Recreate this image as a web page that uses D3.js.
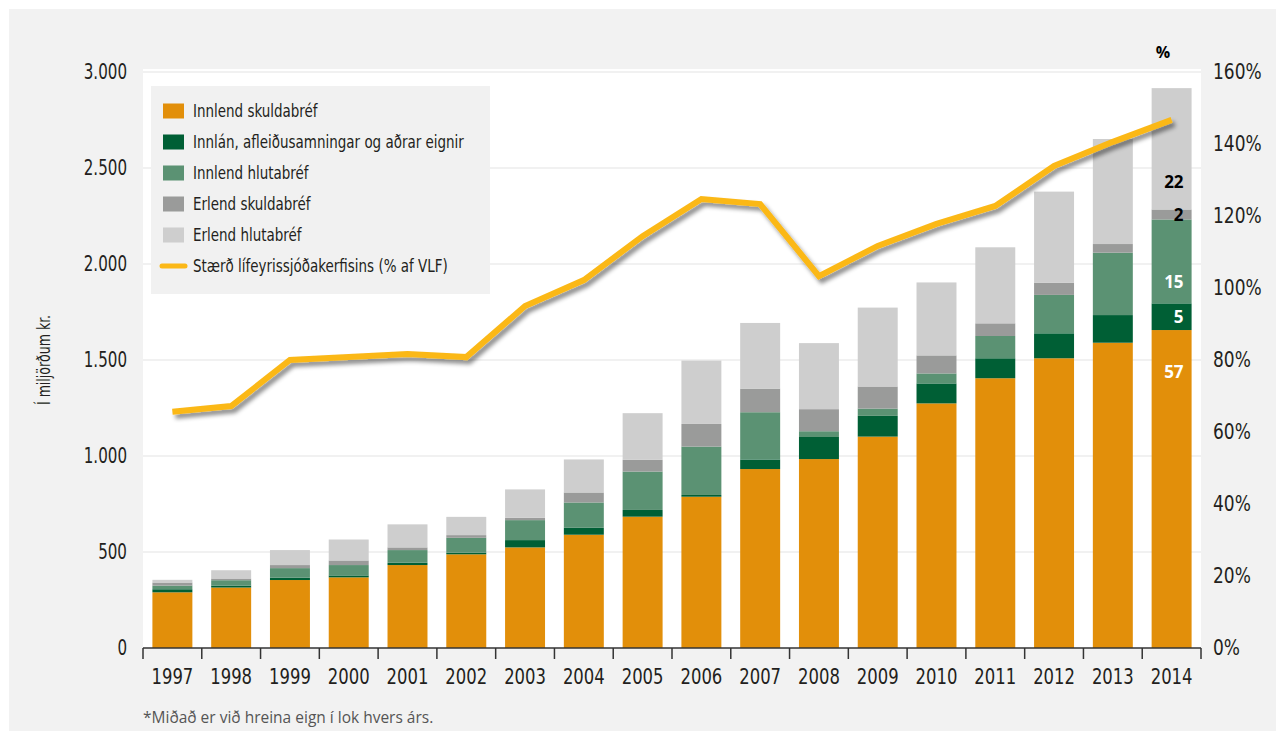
<!DOCTYPE html>
<html>
<head>
<meta charset="utf-8">
<script src="https://cdn.jsdelivr.net/npm/d3@7"></script>
<style>
  body { margin: 0; background: #fff; }
  svg text { font-family: "Liberation Sans Narrow", "DejaVu Sans Condensed", "Roboto", sans-serif; font-stretch: condensed; }
</style>
</head>
<body>
<svg id="chart" width="1276" height="731"></svg>
<script>
// ── Data ──────────────────────────────────────
const years = [1997, 1998, 1999, 2000, 2001, 2002, 2003, 2004, 2005,
               2006, 2007, 2008, 2009, 2010, 2011, 2012, 2013, 2014];

// in billions ISK
const innlendSkuldabref = [290, 315, 354, 368, 432, 488, 524, 590, 684, 788, 932, 984, 1101, 1274, 1405, 1509, 1590, 1656];
const innlan            = [16, 10, 12, 10, 12, 8, 38, 36, 35, 9, 50, 115, 108, 104, 104, 130, 144, 139];
const innlendHlutabref  = [19, 28, 50, 54, 66, 78, 104, 132, 200, 252, 246, 30, 38, 52, 116, 200, 325, 437];
const erlendSkuldabref  = [16, 9, 16, 24, 14, 14, 12, 52, 61, 118, 123, 115, 115, 94, 66, 64, 45, 52];
const erlendHlutabref   = [14, 43, 78, 109, 120, 95, 148, 172, 243, 330, 342, 344, 411, 380, 396, 474, 547, 632];

// pension system size, % of GDP
const vlfPct = [65.6, 67.2, 80, 80.8, 81.7, 80.8, 95, 102.2, 114.4, 124.7, 123.3, 103.3, 111.7, 117.8, 122.8, 133.9, 140.6, 146.7];

// 2014 composition labels, % (bottom to top)
const shares2014 = [57, 5, 15, 2, 22];

const seriesNames = [
  "Innlend skuldabréf",
  "Innlán, afleiðusamningar og aðrar eignir",
  "Innlend hlutabréf",
  "Erlend skuldabréf",
  "Erlend hlutabréf"
];
const lineName = "Stærð lífeyrissjóðakerfisins (% af VLF)";

const leftTicks  = [0, 500, 1000, 1500, 2000, 2500, 3000];
const rightTicks = [0, 20, 40, 60, 80, 100, 120, 140, 160];

const yTitle   = "Í miljörðum kr.";
const footnote = "*Miðað er við hreina eign í lok hvers árs.";

// ── Style ─────────────────────────────────────
const colors    = ["#e28f0a", "#005f35", "#5b9273", "#9a9b9a", "#cecece"];
const lineColor = "#fbb817";
const textColor = "#231f20";

const W = 1276, H = 731;
const plot = { left: 143, right: 1201, top: 72, bottom: 648 };

const svg = d3.select("#chart");

// squeeze text horizontally to mimic a condensed face
function squeeze(sel, k) {
  sel.each(function () {
    const len = this.getComputedTextLength();
    d3.select(this).attr("textLength", len * k).attr("lengthAdjust", "spacingAndGlyphs");
  });
}

// background
svg.append("rect").attr("width", W).attr("height", H).attr("fill", "#fff");
svg.append("rect").attr("x", 9).attr("y", 9).attr("width", W - 9).attr("height", H - 9).attr("fill", "#f2f2f2");
svg.append("rect")
  .attr("x", plot.left).attr("y", plot.top - 3)
  .attr("width", plot.right - plot.left).attr("height", plot.bottom - plot.top + 3)
  .attr("fill", "#fff");

// ── Scales ────────────────────────────────────
const x = d3.scaleBand()
  .domain(years)
  .range([plot.left, plot.right])
  .paddingInner(0.32)
  .paddingOuter(0.16);

const y = d3.scaleLinear().domain([0, 3000]).range([plot.bottom, plot.top]);
const yR = d3.scaleLinear().domain([0, 160]).range([plot.bottom, plot.top]);

const isl = d3.formatLocale({ decimal: ",", thousands: ".", grouping: [3], currency: ["", " kr."] });
const fmtK = isl.format(",d");

// ── Grid ──────────────────────────────────────
svg.append("g")
  .selectAll("line")
  .data(leftTicks.filter(d => d > 0))
  .join("line")
  .attr("x1", plot.left).attr("x2", plot.right)
  .attr("y1", d => y(d)).attr("y2", d => y(d))
  .attr("stroke", "#ececec")
  .attr("stroke-width", 1.5);

// ── Stacked bars ──────────────────────────────
const table = years.map((yr, i) => ({
  year: yr,
  s0: innlendSkuldabref[i],
  s1: innlan[i],
  s2: innlendHlutabref[i],
  s3: erlendSkuldabref[i],
  s4: erlendHlutabref[i]
}));
const stack = d3.stack().keys(["s0", "s1", "s2", "s3", "s4"])(table);

svg.append("g")
  .selectAll("g")
  .data(stack)
  .join("g")
  .attr("fill", (d, i) => colors[i])
  .selectAll("rect")
  .data(d => d)
  .join("rect")
  .attr("x", d => x(d.data.year))
  .attr("width", x.bandwidth())
  .attr("y", d => y(d[1]))
  .attr("height", d => y(d[0]) - y(d[1]));

// ── 2014 share labels ─────────────────────────
const lastIdx = years.length - 1;
const labelDy   = [-117, 0, 20, 0, 33];   // nudge from segment middle
const labelFill = ["#fff", "#fff", "#fff", "#000", "#000"];
svg.append("g")
  .selectAll("text")
  .data(shares2014)
  .join("text")
  .attr("x", x(years[lastIdx]) + x.bandwidth() - 8)
  .attr("y", (d, i) => {
    const seg = stack[i][lastIdx];
    return (y(seg[0]) + y(seg[1])) / 2 + labelDy[i];
  })
  .attr("dy", "0.36em")
  .attr("text-anchor", "end")
  .attr("fill", (d, i) => labelFill[i])
  .style("font-family", "'Open Sans', sans-serif")
  .style("font-stretch", "normal")
  .attr("font-weight", "bold")
  .attr("font-size", "17px")
  .text(d => d);

// ── Line with shadow ──────────────────────────
const defs = svg.append("defs");
const f = defs.append("filter").attr("id", "shadow")
  .attr("x", "-10%").attr("y", "-10%").attr("width", "120%").attr("height", "130%");
f.append("feDropShadow")
  .attr("dx", 3).attr("dy", 4).attr("stdDeviation", 2.2)
  .attr("flood-color", "#000").attr("flood-opacity", 0.45);

const line = d3.line()
  .x((d, i) => x(years[i]) + x.bandwidth() / 2)
  .y(d => yR(d));

svg.append("path")
  .datum(vlfPct)
  .attr("d", line)
  .attr("fill", "none")
  .attr("stroke", lineColor)
  .attr("stroke-width", 6)
  .attr("stroke-linejoin", "miter")
  .attr("filter", "url(#shadow)");

// ── Axes ──────────────────────────────────────
const xAxis = svg.append("g").attr("transform", `translate(0,${plot.bottom})`);
xAxis.append("line")
  .attr("x1", plot.left).attr("x2", plot.right)
  .attr("stroke", "#333").attr("stroke-width", 1.5);
const step = x.step();
xAxis.selectAll(".tk")
  .data(d3.range(years.length + 1))
  .join("line")
  .attr("x1", i => plot.left + i * step)
  .attr("x2", i => plot.left + i * step)
  .attr("y1", 0).attr("y2", 11)
  .attr("stroke", "#333").attr("stroke-width", 1.5);
xAxis.selectAll("text")
  .data(years)
  .join("text")
  .attr("x", d => x(d) + x.bandwidth() / 2)
  .attr("y", 29)
  .attr("dy", "0.35em")
  .attr("text-anchor", "middle")
  .attr("fill", textColor)
  .attr("font-size", "21px")
  .text(d => d)
  .call(squeeze, 0.87);

svg.append("g")
  .selectAll("text")
  .data(leftTicks)
  .join("text")
  .attr("x", 127)
  .attr("y", d => y(d))
  .attr("dy", "0.35em")
  .attr("text-anchor", "end")
  .attr("fill", textColor)
  .attr("font-size", "21px")
  .text(d => fmtK(d))
  .call(squeeze, 0.8);

svg.append("g")
  .selectAll("text")
  .data(rightTicks)
  .join("text")
  .attr("x", 1213)
  .attr("y", d => yR(d))
  .attr("dy", "0.35em")
  .attr("text-anchor", "start")
  .attr("fill", textColor)
  .attr("font-size", "21px")
  .text(d => d + "%")
  .call(squeeze, 0.9);

svg.append("text")
  .attr("transform", `translate(50,${(plot.top + plot.bottom) / 2}) rotate(-90)`)
  .attr("text-anchor", "middle")
  .attr("fill", textColor)
  .attr("font-size", "17px")
  .text(yTitle)
  .call(squeeze, 0.82);

svg.append("text")
  .attr("x", 1163).attr("y", 52)
  .attr("dy", "0.35em")
  .attr("text-anchor", "middle")
  .attr("fill", "#000")
  .attr("font-weight", "bold")
  .style("font-family", "'Open Sans', sans-serif")
  .style("font-stretch", "normal")
  .attr("font-size", "16px")
  .text("%");

svg.append("text")
  .attr("x", 143).attr("y", 718)
  .attr("dy", "0.35em")
  .attr("fill", "#555")
  .style("font-family", "'Open Sans', sans-serif")
  .style("font-stretch", "normal")
  .attr("font-size", "15.5px")
  .text(footnote);

// ── Legend ────────────────────────────────────
const legend = svg.append("g");
legend.append("rect")
  .attr("x", 151).attr("y", 86)
  .attr("width", 339).attr("height", 208)
  .attr("fill", "#f1f1f1");

const rowY = i => 111 + i * 31;
seriesNames.forEach((name, i) => {
  legend.append("rect")
    .attr("x", 163).attr("y", rowY(i) - 7.5)
    .attr("width", 21).attr("height", 15)
    .attr("fill", colors[i]);
  legend.append("text")
    .attr("x", 193).attr("y", rowY(i))
    .attr("dy", "0.35em")
    .attr("fill", textColor)
    .attr("font-size", "17px")
    .text(name)
    .call(squeeze, 0.88);
});
legend.append("line")
  .attr("x1", 162).attr("x2", 185)
  .attr("y1", rowY(5)).attr("y2", rowY(5))
  .attr("stroke", lineColor).attr("stroke-width", 5)
  .attr("stroke-linecap", "round");
legend.append("text")
  .attr("x", 193).attr("y", rowY(5))
  .attr("dy", "0.35em")
  .attr("fill", textColor)
  .attr("font-size", "17px")
  .text(lineName)
  .call(squeeze, 0.88);
</script>
</body>
</html>
